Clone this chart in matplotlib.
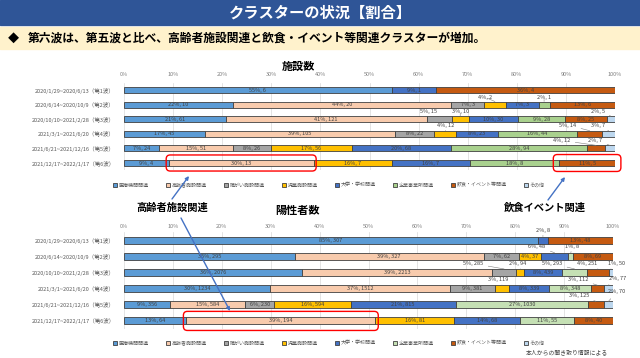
import matplotlib
matplotlib.use("Agg")
import matplotlib.pyplot as plt
from matplotlib.patches import Rectangle, FancyBboxPatch, Patch
from matplotlib.transforms import IdentityTransform

plt.rcParams['font.family'] = ['Noto Sans CJK JP', 'DejaVu Sans']

# data
waves = ['2020/1/29~2020/6/13（第1波）',
         '2020/6/14~2020/10/9（第2波）',
         '2020/10/10~2021/2/28（第3波）',
         '2021/3/1~2021/6/20（第4波）',
         '2021/6/21~2021/12/16（第5波）',
         '2021/12/17~2022/1/17（第6波）']
categories = ['医療機関関連', '高齢者施設関連', '障がい施設関連', '児童施設関連',
              '大学・学校関連', '企業事業所関連', '飲食・イベント等関連', 'その他']
ticks = [0, 10, 20, 30, 40, 50, 60, 70, 80, 90, 100]

# 施設数 (per wave, order of categories)
facilities = [[6, 0, 0, 0, 1, 0, 4, 0],
              [10, 20, 3, 2, 3, 1, 6, 0],
              [61, 121, 15, 10, 30, 28, 25, 5],
              [45, 105, 22, 12, 23, 44, 14, 7],
              [24, 51, 26, 56, 68, 94, 12, 7],
              [4, 13, 0, 7, 7, 8, 5, 0]]
# 陽性者数
positives = [[307, 0, 0, 0, 8, 0, 48, 0],
             [295, 327, 62, 37, 48, 8, 69, 0],
             [2076, 2213, 285, 94, 439, 293, 251, 50],
             [1234, 1512, 381, 119, 339, 348, 112, 77],
             [356, 584, 230, 594, 815, 1030, 125, 70],
             [64, 194, 0, 81, 68, 55, 40, 0]]

colors_top = ['#5B9BD5', '#F8CBAD', '#A5A5A5', '#FFC000',
              '#4472C4', '#A9D18E', '#C55A11', '#BDD7EE']
colors_bot = ['#5B9BD5', '#F8CBAD', '#A5A5A5', '#FFC000',
              '#4472C4', '#C5E0B4', '#C55A11', '#BDD7EE']

# labels put outside the bar: (wave, category) -> (dx in %, dy in rows)
outside_top = {(1, 3): (-2, -0.5), (1, 5): (0, -0.5),
               (2, 2): (-2.3, -0.55), (2, 3): (0, -0.55), (2, 7): (-2.7, -0.55),
               (3, 3): (0, -0.6), (3, 6): (-4.5, -0.6), (3, 7): (-2.2, -0.6),
               (4, 6): (-7, -0.55), (4, 7): (-3, -0.55)}
outside_bot = {(0, 4): (0, -0.62),
               (1, 4): (-3.6, -0.62), (1, 5): (0.3, -0.62),
               (2, 2): (-6.3, -0.55), (2, 3): (-0.6, -0.55), (2, 5): (-4.6, -0.55),
               (2, 6): (-2.2, -0.55), (2, 7): (1.2, -0.55),
               (3, 3): (-0.8, -0.55), (3, 6): (-3.9, -0.58), (3, 7): (1.8, -0.65),
               (4, 6): (-3.5, -0.55), (4, 7): (1.7, -0.8)}

W, H = 640, 358
fig = plt.figure(figsize=(6.4, 3.58), dpi=100)

# header bands
fig.patches.append(Rectangle((0, 1 - 25 / H), 1, 25 / H, transform=fig.transFigure,
                             color='#2F5597', zorder=0))
fig.patches.append(Rectangle((0, 1 - 49 / H), 1, 22 / H, transform=fig.transFigure,
                             color='#FFF2CC', zorder=0))
fig.text(0.5, 1 - 13 / H, 'クラスターの状況【割合】', ha='center', va='center',
         color='white', fontsize=11, fontweight='bold')
fig.text(8 / W, 1 - 38 / H, '◆', ha='left', va='center', fontsize=8, color='black')
fig.text(28 / W, 1 - 38 / H, '第六波は、第五波と比べ、高齢者施設関連と飲食・イベント等関連クラスターが増加。',
         ha='left', va='center', fontsize=8.5, fontweight='bold', color='black')


def px_axes(l, t, r, b):
    return fig.add_axes([l / W, 1 - b / H, (r - l) / W, (b - t) / H])


def draw(ax, counts, colors, outside, bar_h, tick_pad):
    ax.set_xlim(0, 100)
    ax.set_ylim(len(waves) - 0.5, -0.5)
    ax.set_axisbelow(True)
    ax.grid(axis='x', color='#D9D9D9', lw=0.5)
    segs = {}
    for i, row in enumerate(counts):
        total = sum(row)
        left = 0
        for j, c in enumerate(row):
            if c == 0:
                continue
            w = c / total * 100
            ax.barh(i, w, left=left, height=bar_h, color=colors[j],
                    edgecolor='#404040', lw=0.6)
            segs[(i, j)] = (left, left + w)
            label = f'{round(c / total * 100)}%, {c}'
            cx = left + w / 2
            if (i, j) in outside:
                dx, dy = outside[(i, j)]
                ax.annotate(label, xy=(cx, i - bar_h / 2), xytext=(cx + dx, i + dy),
                            ha='center', va='center', fontsize=4, color='#404040',
                            arrowprops=dict(arrowstyle='-', color='#808080', lw=0.4,
                                            shrinkA=1.5, shrinkB=0),
                            annotation_clip=False)
            else:
                ax.text(cx, i, label, ha='center', va='center', fontsize=4,
                        color='#404040')
            left += w
    ax.set_xticks(ticks)
    ax.set_xticklabels([f'{t}%' for t in ticks])
    ax.xaxis.tick_top()
    ax.tick_params(axis='x', length=0, pad=tick_pad, labelsize=4, labelcolor='#808080')
    ax.set_yticks(range(len(waves)))
    ax.set_yticklabels(waves)
    ax.tick_params(axis='y', length=0, pad=6.5, labelsize=4, labelcolor='#595959')
    for s in ax.spines.values():
        s.set_visible(False)
    return segs


ax1 = px_axes(124, 82.7, 615, 170.3)
ax2 = px_axes(124, 232, 613, 329)
segs1 = draw(ax1, facilities, colors_top, outside_top, 0.42, 4)
segs2 = draw(ax2, positives, colors_bot, outside_bot, 0.43, 2.5)

fig.text(298 / W, 1 - 66 / H, '施設数', ha='center', va='center', fontsize=8, fontweight='bold')
fig.text(298 / W, 1 - 210 / H, '陽性者数', ha='center', va='center', fontsize=8, fontweight='bold')

for ax, colors, y in [(ax1, colors_top, 185), (ax2, colors_bot, 343)]:
    handles = [Patch(facecolor=c, edgecolor='#404040', lw=0.6) for c in colors]
    ax.legend(handles, categories, loc='center', bbox_to_anchor=(329 / W, 1 - y / H),
              bbox_transform=fig.transFigure, ncol=8, frameon=False, fontsize=3.6,
              handlelength=0.8, handleheight=0.8, handletextpad=0.3,
              columnspacing=3.5, labelcolor='#595959')

fig.text(608 / W, 1 - 352 / H, '本人からの聞き取り情報による', ha='right', va='center',
         fontsize=4.2, color='#404040')

# red highlight boxes around segments of wave 6
fig.canvas.draw()


def red_box(ax, seg, row, padx, pady):
    x0, x1 = seg
    (px0, py0) = ax.transData.transform((x0 - padx, row + pady))
    (px1, py1) = ax.transData.transform((x1 + padx, row - pady))
    box = FancyBboxPatch((px0, py0), px1 - px0, py1 - py0,
                         boxstyle='round,pad=0,rounding_size=4',
                         transform=IdentityTransform(), fill=False,
                         edgecolor='#FF0000', lw=1.0, zorder=5)
    fig.patches.append(box)


red_box(ax1, segs1[(5, 1)], 5, 0.5, 0.55)
red_box(ax1, segs1[(5, 6)], 5, 1.2, 0.58)
red_box(ax2, segs2[(5, 1)], 5, 0.6, 0.59)

fig.text(172 / W, 1 - 208 / H, '高齢者施設関連', ha='center', va='center',
         fontsize=7.4, fontweight='bold')
fig.text(545 / W, 1 - 208 / H, '飲食イベント関連', ha='center', va='center',
         fontsize=7.4, fontweight='bold')

# blue arrows from the callouts to the boxes
arrow = dict(arrowstyle='-|>', color='#4472C4', lw=1.0, mutation_scale=5,
             shrinkA=0, shrinkB=0)
for (x0, y0), (x1, y1) in [((172, 199), (189, 176)),
                           ((181, 218), (230, 311)),
                           ((548, 200), (565, 177))]:
    plt.annotate('', xy=(x1, H - y1), xytext=(x0, H - y0),
                 xycoords='figure pixels', textcoords='figure pixels',
                 arrowprops=arrow, annotation_clip=False)

fig.savefig('out.png', dpi=100)
